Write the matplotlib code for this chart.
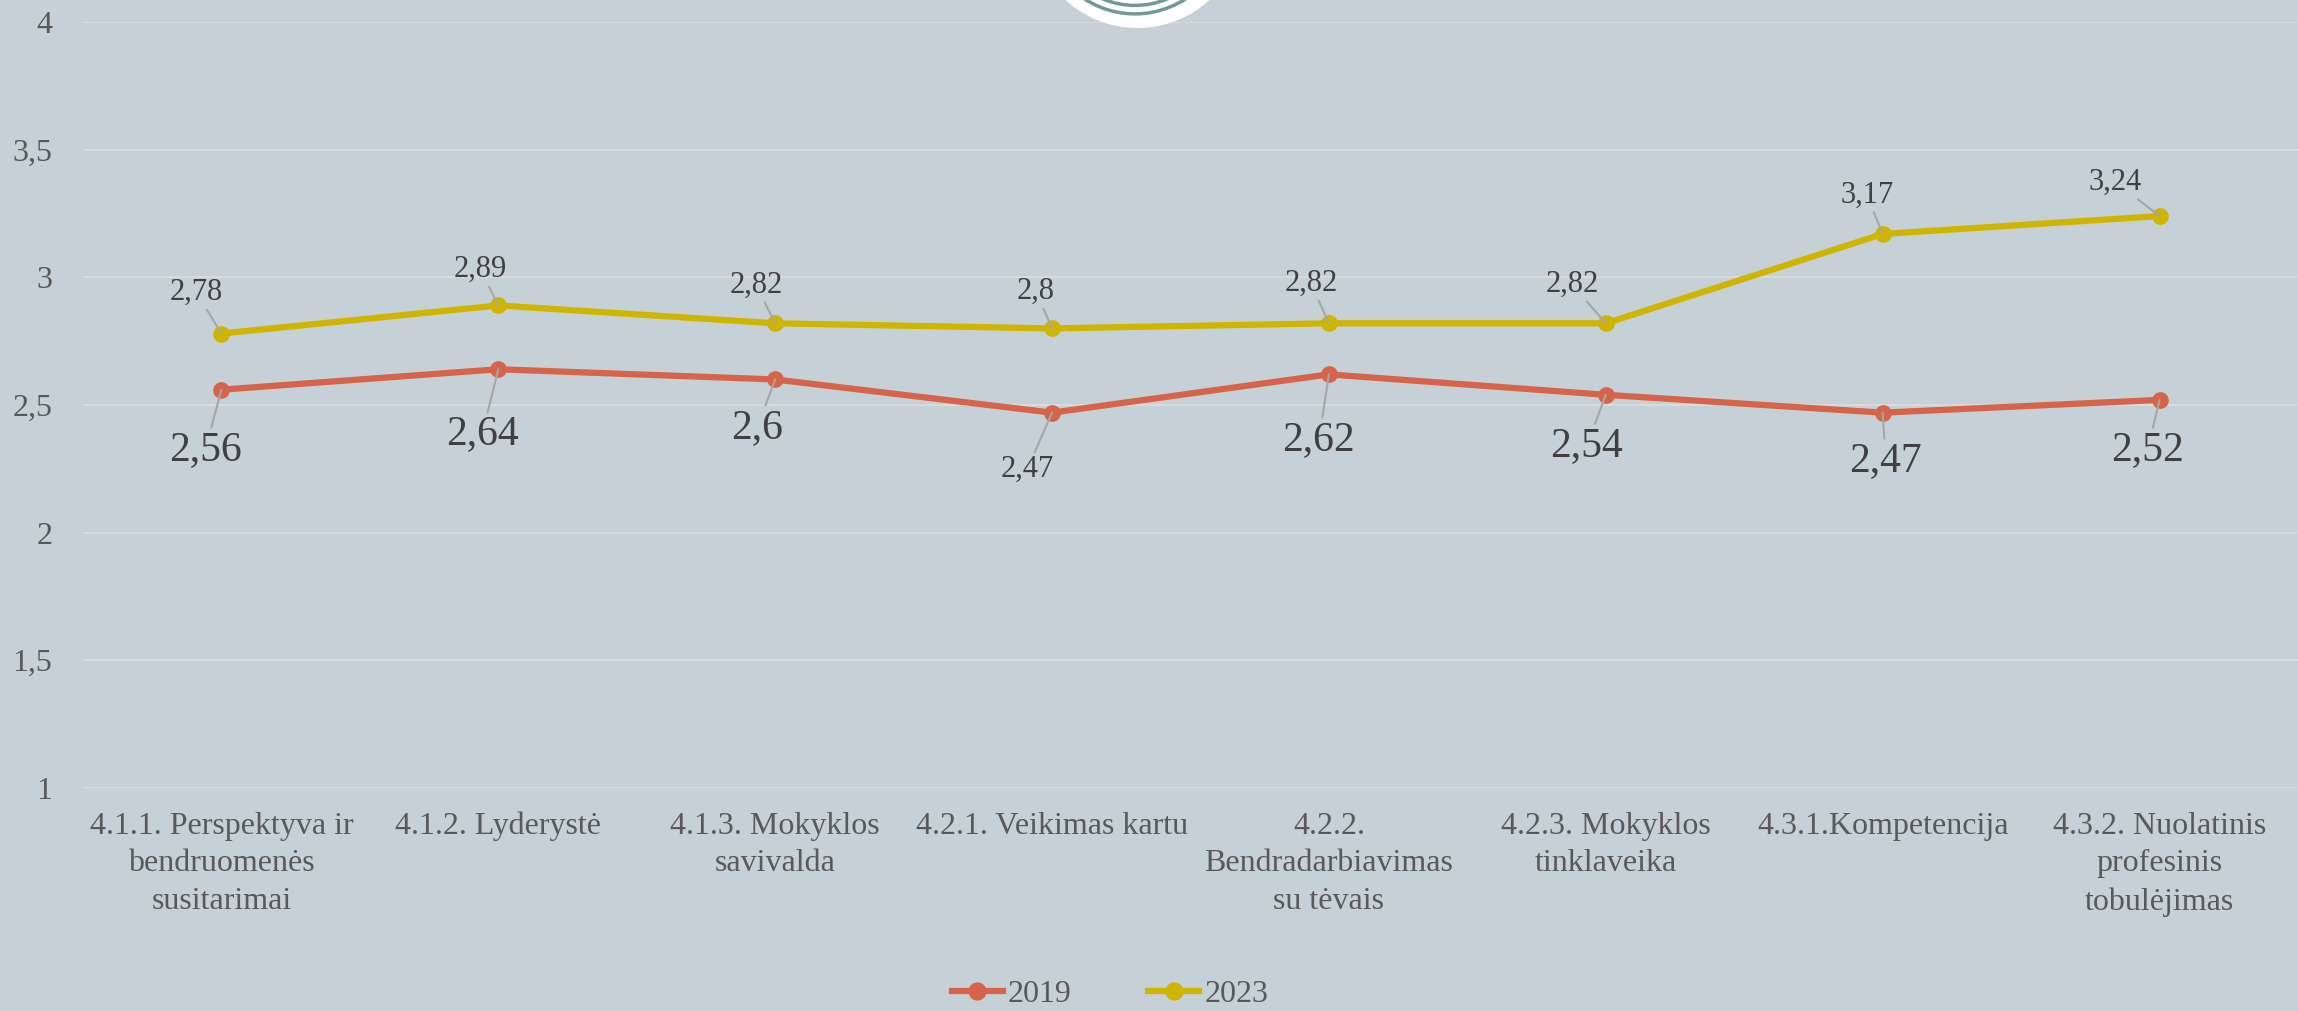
import matplotlib.pyplot as plt
from matplotlib.patches import Circle

plt.rcParams['font.family'] = ['Liberation Serif', 'DejaVu Serif']

categories = [
    "4.1.1. Perspektyva ir\nbendruomenės\nsusitarimai",
    "4.1.2. Lyderystė",
    "4.1.3. Mokyklos\nsavivalda",
    "4.2.1. Veikimas kartu",
    "4.2.2.\nBendradarbiavimas\nsu tėvais",
    "4.2.3. Mokyklos\ntinklaveika",
    "4.3.1.Kompetencija",
    "4.3.2. Nuolatinis\nprofesinis\ntobulėjimas",
]
vals_2019 = [2.56, 2.64, 2.60, 2.47, 2.62, 2.54, 2.47, 2.52]
vals_2023 = [2.78, 2.89, 2.82, 2.80, 2.82, 2.82, 3.17, 3.24]
yticks = [1, 1.5, 2, 2.5, 3, 3.5, 4]

# label placement (offset in pixels from the point) and font sizes
off_2019 = [(-16, -60), (-16, -65), (-18, -48), (-25, -57), (-10, -65), (-19, -51), (3, -48), (-12, -50)]
size_2019 = [30, 30, 30, 22, 30, 30, 30, 30]
off_2023 = [(-25, 41), (-18, 36), (-19, 38), (-16, 37), (-18, 40), (-34, 39), (-16, 39), (-44, 34)]

bg = '#C6D1D7'
c19 = '#D5644A'
c23 = '#CFB500'

fig = plt.figure(figsize=(22.98, 10.11), dpi=100, facecolor=bg)
ax = fig.add_axes([0.0361, 0.2206, 0.9639, 0.7576])
ax.set_facecolor(bg)

x = list(range(len(categories)))
ax.plot(x, vals_2019, color=c19, lw=4.5, marker='o', ms=11, label='2019', zorder=3)
ax.plot(x, vals_2023, color=c23, lw=4.5, marker='o', ms=11, label='2023', zorder=3)

def fmt(v):
    return f"{v:g}".replace('.', ',')

arrow = dict(arrowstyle='-', color='#A6A6A6', lw=1.5, shrinkA=0, shrinkB=0)
for i, v in enumerate(vals_2019):
    ax.annotate(fmt(v), (i, v), xytext=off_2019[i], textcoords='offset pixels',
                ha='center', va='center', fontsize=size_2019[i], color='#404040',
                arrowprops=arrow)
for i, v in enumerate(vals_2023):
    ax.annotate(fmt(v), (i, v), xytext=off_2023[i], textcoords='offset pixels',
                ha='center', va='center', fontsize=22, color='#404040',
                arrowprops=arrow)

ax.set_xlim(-0.5, len(categories) - 0.5)
ax.set_ylim(1, 4)
ax.set_yticks(yticks)
ax.set_yticklabels([fmt(t) for t in yticks])
ax.set_xticks(x)
ax.set_xticklabels(categories, linespacing=1.4)
ax.tick_params(axis='both', length=0, labelsize=23, labelcolor='#595959')
ax.tick_params(axis='y', pad=22)
ax.tick_params(axis='x', pad=17)
ax.grid(axis='y', color='#DADADA', lw=1.5, zorder=0)
ax.set_axisbelow(True)
for s in ax.spines.values():
    s.set_visible(False)

fig.legend(loc='center', bbox_to_anchor=(1110 / 2298, 1 - 994 / 1011), ncol=2,
           frameon=False, fontsize=23, handlelength=1.6, handletextpad=0.15,
           columnspacing=2.4, labelcolor='#595959', markerscale=1.1)

# logo peeking in at the top
fig.patches.append(Circle((11.375, 10.896), 1.066, transform=fig.dpi_scale_trans,
                          facecolor='white', edgecolor='none', zorder=5))
for r in (0.925, 0.84):
    fig.patches.append(Circle((11.35, 10.896), r, transform=fig.dpi_scale_trans,
                              facecolor='none', edgecolor='#729A95', lw=2.5, zorder=6))

fig.savefig('out.png', dpi=100, facecolor=bg)
